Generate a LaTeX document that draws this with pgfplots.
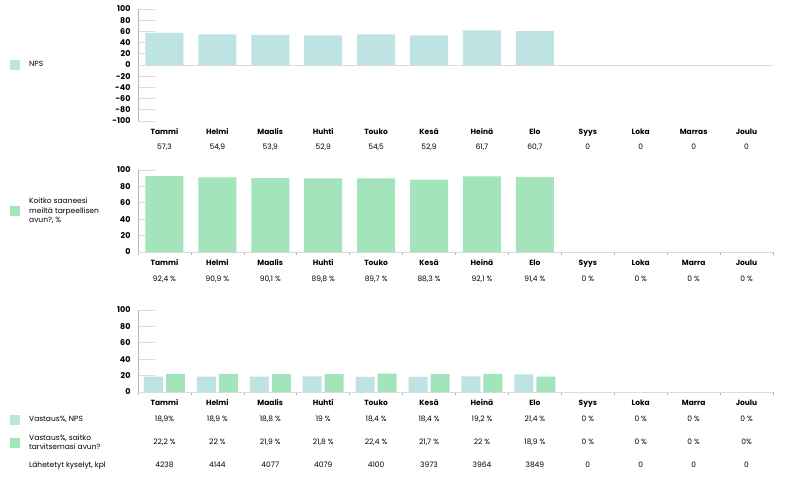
\documentclass[border=0pt]{standalone}
\usepackage{pgfplots}
\pgfplotsset{compat=1.18}
\usepackage{fontspec}
\setmainfont{Poppins}

\definecolor{npsteal}{HTML}{BDE3E3}
\definecolor{helpgreen}{HTML}{A3E4BB}
\definecolor{axisgray}{HTML}{B4B4B4}
\definecolor{tickgray}{HTML}{DCDCDC}

% month name + value rows under a bar group
\newcommand{\lblA}[2]{\strut\textbf{#1}\\[6pt]#2\strut}
\newcommand{\lblB}[2]{\strut\textbf{#1}\\[7pt]#2\strut}
\newcommand{\lblC}[4]{\strut\textbf{#1}\\[7pt]#2\\[14pt]#3\\[14pt]#4\strut}

\pgfplotsset{
  /pgfplots/ybar legend/.style={/pgfplots/legend image code/.code={%
    \draw[##1,/tikz/.cd,draw=none] (0pt,-5pt) rectangle (10pt,5pt);}},
  panel/.style={
    scale only axis, width=635pt, anchor=south west,
    xmin=-0.5, xmax=11.5,
    axis y line*=left, axis x line*=bottom,
    y axis line style={axisgray, line width=1pt, -},
    x axis line style={tickgray, line width=1pt, -},
    xtick={0,...,11}, minor xtick={-0.5,0.5,...,11.5},
    tick align=inside, major tick length=17pt, minor tick length=3pt,
    major x tick style={draw=none},
    minor x tick style={axisgray, line width=0.6pt},
    major y tick style={tickgray, line width=1pt},
    /pgf/number format/assume math mode=true,
    yticklabel style={font=\bfseries\fontsize{8}{8}\selectfont, xshift=-4pt},
    xticklabel style={font=\fontsize{7.5}{9}\selectfont, align=center, anchor=north, yshift=13pt},
    legend cell align=left,
    legend style={draw=none, fill=none, inner sep=0pt, column sep=9pt,
      font=\fontsize{7.5}{9.5}\selectfont, nodes={align=left, inner sep=0pt}},
  },
}

\begin{document}
\begin{tikzpicture}
\useasboundingbox (0pt,0pt) rectangle (795pt,-477pt);

% NPS
\begin{axis}[panel,
  at={(138pt,-121pt)}, height=112pt,
  ymin=-100, ymax=100, ytick={-100,-80,...,100},
  minor xtick={}, x axis line style={draw=none},
  extra y ticks={0}, extra y tick labels={},
  extra y tick style={grid=major, major grid style={tickgray, line width=1pt}},
  ybar, bar width=38pt,
  xticklabels={{\lblA{Tammi}{57,3}},{\lblA{Helmi}{54,9}},{\lblA{Maalis}{53,9}},
    {\lblA{Huhti}{52,9}},{\lblA{Touko}{54,5}},{\lblA{Kesä}{52,9}},
    {\lblA{Heinä}{61,7}},{\lblA{Elo}{60,7}},{\lblA{Syys}{0}},
    {\lblA{Loka}{0}},{\lblA{Marras}{0}},{\lblA{Joulu}{0}}},
  legend style={at={(axis description cs:-0.2016,0.5)}, anchor=west},
]
\addplot[fill=npsteal, draw=none] coordinates {
  (0,57.3) (1,54.9) (2,53.9) (3,52.9) (4,54.5) (5,52.9)
  (6,61.7) (7,60.7) (8,0) (9,0) (10,0) (11,0)};
\addlegendentry{NPS}
\end{axis}

% Koitko saaneesi
\begin{axis}[panel,
  at={(138pt,-252pt)}, height=82pt,
  ymin=0, ymax=100, ytick={0,20,...,100},
  ybar, bar width=38pt,
  xticklabels={{\lblB{Tammi}{92,4 \%}},{\lblB{Helmi}{90,9 \%}},{\lblB{Maalis}{90,1 \%}},
    {\lblB{Huhti}{89,8 \%}},{\lblB{Touko}{89,7 \%}},{\lblB{Kesä}{88,3 \%}},
    {\lblB{Heinä}{92,1 \%}},{\lblB{Elo}{91,4 \%}},{\lblB{Syys}{0 \%}},
    {\lblB{Loka}{0 \%}},{\lblB{Marra}{0 \%}},{\lblB{Joulu}{0 \%}}},
  legend style={at={(axis description cs:-0.2016,0.5)}, anchor=west},
]
\addplot[fill=helpgreen, draw=none] coordinates {
  (0,92.4) (1,90.9) (2,90.1) (3,89.8) (4,89.7) (5,88.3)
  (6,92.1) (7,91.4) (8,0) (9,0) (10,0) (11,0)};
\addlegendentry{Koitko saaneesi\\meiltä tarpeellisen\\avun?, \%}
\end{axis}

% Vastaus%
\begin{axis}[panel,
  at={(138pt,-392pt)}, height=82pt,
  ymin=0, ymax=100, ytick={0,20,...,100},
  ybar=3pt, bar width=19pt,
  xticklabels={{\lblC{Tammi}{18,9\%}{22,2 \%}{4238}},
    {\lblC{Helmi}{18,9 \%}{22 \%}{4144}},
    {\lblC{Maalis}{18,8 \%}{21,9 \%}{4077}},
    {\lblC{Huhti}{19 \%}{21,8 \%}{4079}},
    {\lblC{Touko}{18,4 \%}{22,4 \%}{4100}},
    {\lblC{Kesä}{18,4 \%}{21,7 \%}{3973}},
    {\lblC{Heinä}{19,2 \%}{22 \%}{3964}},
    {\lblC{Elo}{21,4 \%}{18,9 \%}{3849}},
    {\lblC{Syys}{0 \%}{0 \%}{0}},
    {\lblC{Loka}{0 \%}{0 \%}{0}},
    {\lblC{Marra}{0 \%}{0 \%}{0}},
    {\lblC{Joulu}{0 \%}{0\%}{0}}},
  legend style={at={(axis description cs:-0.2016,-0.195)}, anchor=north west,
    nodes={minimum height=23pt}},
]
\addplot[fill=npsteal, draw=none] coordinates {
  (0,18.9) (1,18.9) (2,18.8) (3,19) (4,18.4) (5,18.4)
  (6,19.2) (7,21.4) (8,0) (9,0) (10,0) (11,0)};
\addlegendentry{Vastaus\%, NPS}
\addplot[fill=helpgreen, draw=none] coordinates {
  (0,22.2) (1,22) (2,21.9) (3,21.8) (4,22.4) (5,21.7)
  (6,22) (7,18.9) (8,0) (9,0) (10,0) (11,0)};
\addlegendentry{Vastaus\%, saitko\\tarvitsemasi avun?}
\addlegendimage{empty legend}
\addlegendentry{Lähetetyt kyselyt, kpl}
\end{axis}
\end{tikzpicture}
\end{document}
